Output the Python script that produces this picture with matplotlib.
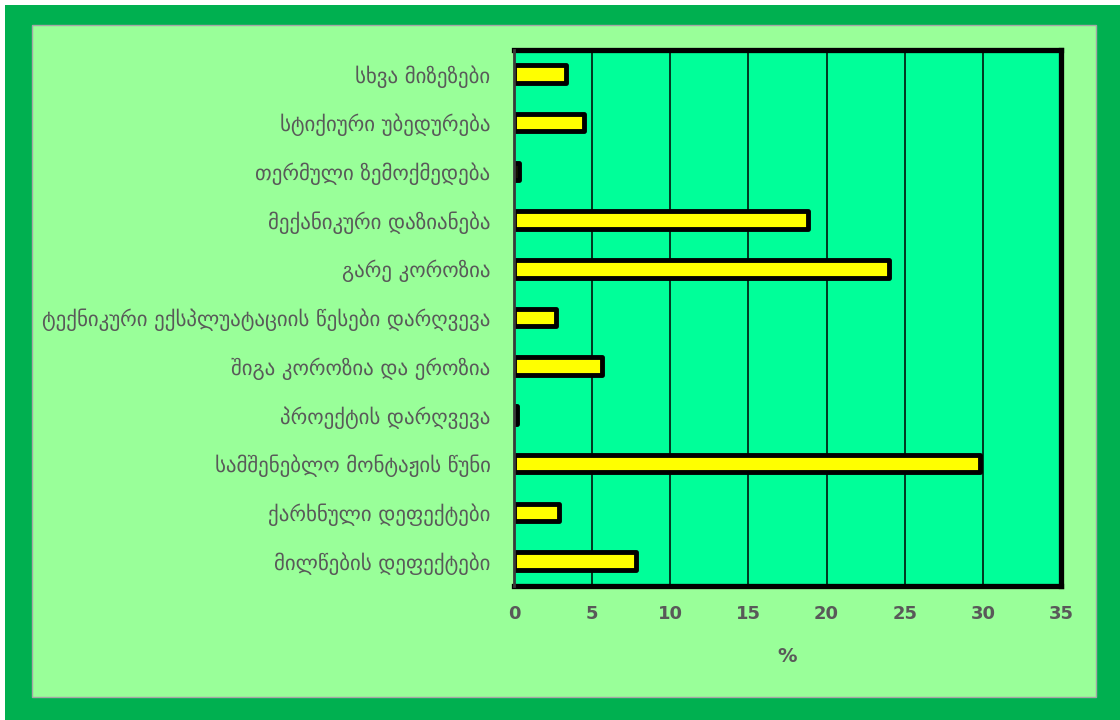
import matplotlib.pyplot as plt
from matplotlib.patches import Rectangle

# causes of pipeline failures, listed bottom to top
causes = [
    'მილწების დეფექტები',
    'ქარხნული დეფექტები',
    'სამშენებლო მონტაჟის წუნი',
    'პროექტის დარღვევა',
    'შიგა კოროზია და ეროზია',
    'ტექნიკური ექსპლუატაციის წესები დარღვევა',
    'გარე კოროზია',
    'მექანიკური დაზიანება',
    'თერმული ზემოქმედება',
    'სტიქიური უბედურება',
    'სხვა მიზეზები',
]
shares = [7.8, 2.9, 29.8, 0.2, 5.6, 2.7, 24.0, 18.8, 0.3, 4.5, 3.3]
x_ticks = [0, 5, 10, 15, 20, 25, 30, 35]

plt.rcParams['font.family'] = ['DejaVu Sans']
grey = '#595959'

W, H = 1120, 720
fig = plt.figure(figsize=(W / 100, H / 100), dpi=100, facecolor='white')

# dark green frame and light green chart area (kept behind the axes)
fig.patches.append(Rectangle((5 / W, 0), 1 - 5 / W, (H - 5) / H,
                             transform=fig.transFigure, facecolor='#00B050',
                             edgecolor='none', zorder=-3))
fig.patches.append(Rectangle((32 / W, 1 - 697 / H), (1096 - 32) / W, (697 - 25) / H,
                             transform=fig.transFigure, facecolor='#99FF99',
                             edgecolor='#A6A6A6', linewidth=1, zorder=-2))

ax = fig.add_axes([514 / W, 1 - 585.5 / H, (1061 - 514) / W, (585.5 - 49.5) / H])
ax.set_facecolor('#00FF99')

ypos = list(range(len(causes)))
bars = ax.barh(ypos, shares, height=0.36, color='#FFFF00', edgecolor='black',
               linewidth=3.5, zorder=3)
for b in bars:
    b.set_joinstyle('round')

ax.set_xlim(0, 35)
ax.set_ylim(-0.5, len(causes) - 0.5)
ax.set_xticks(x_ticks)
ax.set_xticklabels([str(t) for t in x_ticks], fontsize=13, fontweight='bold', color=grey)
ax.set_yticks(ypos)
ax.set_yticklabels(causes, fontsize=15, color=grey)
ax.tick_params(axis='x', length=0, pad=14)
ax.tick_params(axis='y', length=0, pad=17)

ax.grid(axis='x', color='black', linewidth=1.1, zorder=1)
ax.set_axisbelow(True)

for side in ['top', 'right', 'bottom']:
    ax.spines[side].set_linewidth(3.8)
    ax.spines[side].set_color('black')
ax.spines['left'].set_linewidth(2)
ax.spines['left'].set_color('#3A3A3A')
ax.spines['left'].set_zorder(4)

ax.set_xlabel('%', fontsize=14, fontweight='bold', color=grey, labelpad=17)

plt.savefig('out.png', dpi=100)
